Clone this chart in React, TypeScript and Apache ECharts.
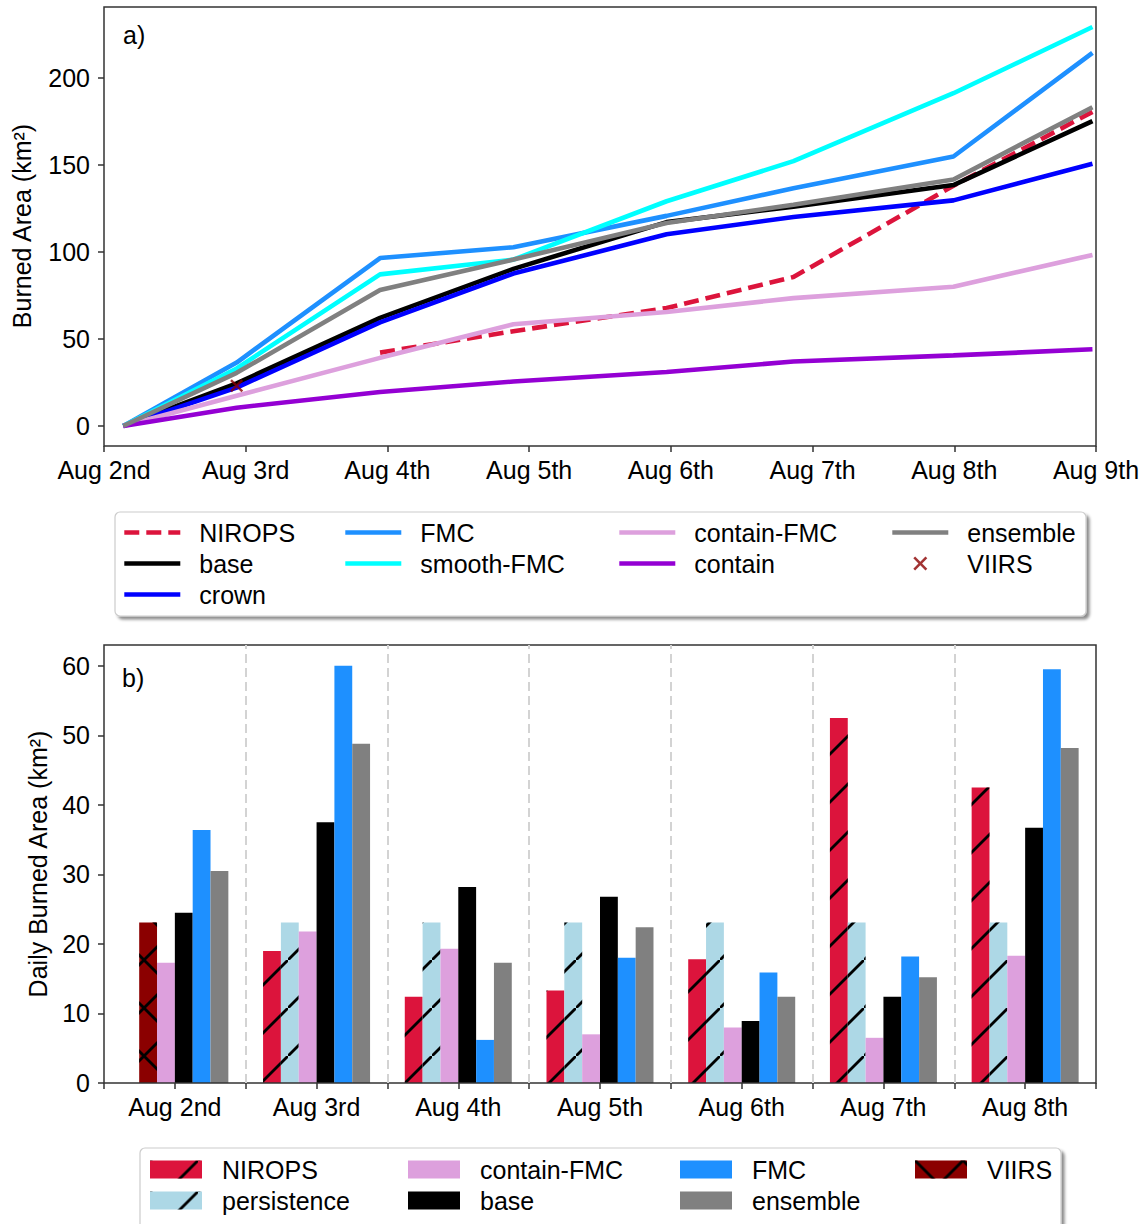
import React, { useEffect, useRef } from 'react';
import * as echarts from 'echarts';

// ---------- Data ----------
const topDayLabels = ['Aug 2nd', 'Aug 3rd', 'Aug 4th', 'Aug 5th', 'Aug 6th', 'Aug 7th', 'Aug 8th', 'Aug 9th'];
// observation times, in days after Aug 2nd 00:00
const obsTimes = [0.136, 0.936, 1.948, 2.889, 3.97, 4.865, 5.994, 6.975];
const niropsCum = [null, null, 42.1, 54.4, 67.7, 85.5, 137.9, 180.3];
const baseCum = [0, 24.5, 62.0, 90.2, 117.0, 125.9, 138.3, 175.0];
const crownCum = [0, 22.0, 59.5, 87.5, 110.0, 120.0, 129.5, 150.5];
const fmcCum = [0, 36.4, 96.4, 102.6, 120.6, 136.5, 154.7, 214.2];
const smoothFmcCum = [0, 33.0, 87.0, 95.5, 129.0, 152.0, 191.0, 229.0];
const containFmcCum = [0, 17.3, 39.1, 58.4, 65.4, 73.4, 79.9, 98.2];
const containCum = [0, 10.5, 19.5, 25.5, 31.0, 37.0, 40.5, 44.0];
const ensembleCum = [0, 30.5, 78.0, 95.5, 116.5, 127.0, 141.5, 183.0];
const viirsTime = [0.936];
const viirsCum = [23.1];

const topYTicks = [0, 50, 100, 150, 200];
const bottomYTicks = [0, 10, 20, 30, 40, 50, 60];

const barDays = ['Aug 2nd', 'Aug 3rd', 'Aug 4th', 'Aug 5th', 'Aug 6th', 'Aug 7th', 'Aug 8th'];
const dailyNirops = [null, 19.0, 12.4, 13.3, 17.8, 52.5, 42.5];
const dailyPersistence = [null, 23.1, 23.1, 23.1, 23.1, 23.1, 23.1];
const dailyViirs = [23.1, null, null, null, null, null, null];
const dailyContainFmc = [17.3, 21.8, 19.3, 7.0, 8.0, 6.5, 18.3];
const dailyBase = [24.5, 37.5, 28.2, 26.8, 8.9, 12.4, 36.7];
const dailyFmc = [36.4, 60.0, 6.2, 18.0, 15.9, 18.2, 59.5];
const dailyEnsemble = [30.5, 48.8, 17.3, 22.4, 12.4, 15.2, 48.2];
const dayBoundaries = [1, 2, 3, 4, 5, 6];

// ---------- Styles ----------
const FONT = "'Liberation Sans', Arial, Helvetica, sans-serif";
const FS = 25;
const LW = 4.6;
const C = {
  nirops: '#dc143c',
  base: '#000000',
  crown: '#0000ff',
  fmc: '#1e90ff',
  smooth: '#00ffff',
  containFmc: '#dda0dd',
  contain: '#9400d3',
  ensemble: '#808080',
  viirs: '#8b0000',
  persistence: '#add8e6',
};
const AXIS_COLOR = '#333333';
const X_PATH =
  'path://M0,1.3 L1.3,0 L5,3.7 L8.7,0 L10,1.3 L6.3,5 L10,8.7 L8.7,10 L5,6.3 L1.3,10 L0,8.7 L3.7,5 Z';
const SLASH = 'path://M46,0 L48,0 L48,2 L2,48 L0,48 L0,46 Z';
const CROSS = 'path://M46,0 L48,0 L48,2 L2,48 L0,48 L0,46 Z M0,2 L0,0 L2,0 L48,46 L48,48 L46,48 Z';

const slashDecal = {
  symbol: SLASH,
  symbolSize: 1,
  symbolKeepAspect: false,
  dashArrayX: [48, 0],
  dashArrayY: [48, 0],
  color: '#000000',
  rotation: 0,
};
const crossDecal = { ...slashDecal, symbol: CROSS };

function pairs(times: number[], vals: (number | null)[]) {
  const out: number[][] = [];
  vals.forEach((v, i) => {
    if (v !== null) out.push([times[i], v]);
  });
  return out;
}

const DASH = [15, 7];

function lineSeries(name: string, vals: (number | null)[], color: string, dashed = false) {
  return {
    name,
    type: 'line',
    xAxisIndex: 0,
    yAxisIndex: 0,
    data: pairs(obsTimes, vals),
    symbol: 'none',
    lineStyle: { width: LW, color, type: dashed ? DASH : 'solid' },
    itemStyle: { color },
    z: 3,
  };
}

function barSeries(name: string, vals: (number | null)[], color: string, decal?: any, stack?: string) {
  const s: any = {
    name,
    type: 'bar',
    xAxisIndex: 1,
    yAxisIndex: 1,
    data: vals,
    barGap: '0%',
    barCategoryGap: '24.5%',
    itemStyle: { color },
  };
  if (decal) s.itemStyle.decal = decal;
  if (stack) s.stack = stack;
  return s;
}

// names of line series: their legend icon shows only the line (symbol hidden)
const LINE_NAMES = ['NIROPS', 'base', 'crown', 'FMC', 'smooth-FMC', 'contain-FMC', 'contain', 'ensemble'];

function legendCol(names: string[], left: number, top: number, o: any) {
  return {
    orient: 'vertical',
    left,
    top,
    padding: 0,
    data: names.map((n) =>
      LINE_NAMES.indexOf(n) >= 0
        ? {
            name: n,
            itemStyle: { opacity: 0 },
            lineStyle: { width: LW, type: n === 'NIROPS' ? DASH : 'solid' },
          }
        : { name: n }
    ),
    itemWidth: o.w,
    itemHeight: o.h,
    itemGap: o.gap,
    icon: o.icon,
    selectedMode: false,
    formatter: (n: string) => n.trim(),
    textStyle: {
      fontSize: FS,
      fontFamily: FONT,
      color: '#000',
      lineHeight: 24,
      padding: [0, 0, 0, o.pad],
    },
  };
}

export default function App() {
  const ref = useRef<HTMLDivElement>(null);

  useEffect(() => {
    if (!ref.current) return;
    const chart = echarts.init(ref.current, null, { renderer: 'svg' });

    const lineLeg = { w: 56, h: 14, gap: 6, pad: 14 };
    const barLeg = { w: 52, h: 18, gap: 6, pad: 15, icon: 'rect' };

    const option: any = {
      animation: false,
      backgroundColor: '#ffffff',
      textStyle: { fontFamily: FONT },
      grid: [
        { left: 104, top: 7, width: 992, height: 439, show: true, borderColor: AXIS_COLOR, borderWidth: 1.5, backgroundColor: 'transparent', z: 5 },
        { left: 104, top: 645, width: 992, height: 438, show: true, borderColor: AXIS_COLOR, borderWidth: 1.5, backgroundColor: 'transparent', z: 5 },
      ],
      xAxis: [
        {
          type: 'value',
          gridIndex: 0,
          min: 0,
          max: 7,
          interval: 1,
          axisLine: { show: false, onZero: false },
          axisTick: { show: true, inside: false, length: 6, lineStyle: { color: AXIS_COLOR, width: 1.5 } },
          axisLabel: {
            fontSize: FS,
            fontFamily: FONT,
            color: '#000',
            margin: 11,
            lineHeight: 26,
            formatter: (v: number) => topDayLabels[Math.round(v)] ?? '',
          },
          splitLine: { show: false },
        },
        {
          type: 'category',
          gridIndex: 1,
          data: barDays,
          position: 'bottom',
          axisLine: { show: false, onZero: false },
          axisTick: { show: true, alignWithLabel: true, inside: false, length: 6, lineStyle: { color: AXIS_COLOR, width: 1.5 } },
          axisLabel: { fontSize: FS, fontFamily: FONT, color: '#000', margin: 11, lineHeight: 26 },
          splitLine: { show: false },
        },
        {
          type: 'value',
          gridIndex: 1,
          min: 0,
          max: 7,
          interval: 1,
          position: 'top',
          offset: -438,
          axisLine: { show: false, onZero: false },
          axisTick: { show: true, inside: true, length: 6, lineStyle: { color: AXIS_COLOR, width: 1.5 } },
          axisLabel: { show: false },
          splitLine: { show: false },
        },
      ],
      yAxis: [
        {
          type: 'value',
          gridIndex: 0,
          min: -11.5,
          max: 240.5,
          axisLine: { show: false, onZero: false },
          axisTick: { show: true, inside: false, length: 6, customValues: topYTicks, lineStyle: { color: AXIS_COLOR, width: 1.5 } },
          axisLabel: { fontSize: FS, fontFamily: FONT, color: '#000', margin: 14, customValues: topYTicks },
          splitLine: { show: false },
        },
        {
          type: 'value',
          gridIndex: 1,
          min: 0,
          max: 63,
          axisLine: { show: false, onZero: false },
          axisTick: { show: true, inside: false, length: 6, customValues: bottomYTicks, lineStyle: { color: AXIS_COLOR, width: 1.5 } },
          axisLabel: { fontSize: FS, fontFamily: FONT, color: '#000', margin: 14, customValues: bottomYTicks },
          splitLine: { show: false },
        },
      ],
      legend: [
        legendCol(['NIROPS', 'base', 'crown'], 122, 520, lineLeg),
        legendCol(['FMC', 'smooth-FMC'], 343, 520, lineLeg),
        legendCol(['contain-FMC', 'contain'], 617, 520, lineLeg),
        legendCol(['ensemble', 'VIIRS'], 890, 520, lineLeg),
        legendCol(['NIROPS ', 'persistence'], 150, 1157, barLeg),
        legendCol(['contain-FMC ', 'base '], 408, 1157, barLeg),
        legendCol(['FMC ', 'ensemble '], 680, 1157, barLeg),
        legendCol(['VIIRS '], 915, 1157, barLeg),
      ],
      graphic: [
        {
          type: 'rect',
          shape: { x: 115, y: 512, width: 971, height: 104, r: 5 },
          style: { fill: '#ffffff', stroke: '#cccccc', lineWidth: 1.2, shadowBlur: 3, shadowOffsetX: 3, shadowOffsetY: 3, shadowColor: 'rgba(0,0,0,0.45)' },
          z: 0,
        },
        {
          type: 'rect',
          shape: { x: 140, y: 1148, width: 921, height: 90, r: 5 },
          style: { fill: '#ffffff', stroke: '#cccccc', lineWidth: 1.2, shadowBlur: 3, shadowOffsetX: 3, shadowOffsetY: 3, shadowColor: 'rgba(0,0,0,0.45)' },
          z: 0,
        },
        {
          type: 'text',
          x: 123,
          y: 35,
          style: { text: 'a)', font: `${FS}px ${FONT}`, fill: '#000', textVerticalAlign: 'middle' },
          z: 10,
        },
        {
          type: 'text',
          x: 122,
          y: 678,
          style: { text: 'b)', font: `${FS}px ${FONT}`, fill: '#000', textVerticalAlign: 'middle' },
          z: 10,
        },
        {
          type: 'text',
          x: 22,
          y: 226,
          rotation: Math.PI / 2,
          style: { text: 'Burned Area (km²)', font: `${FS}px ${FONT}`, fill: '#000', textAlign: 'center', textVerticalAlign: 'middle' },
          z: 10,
        },
        {
          type: 'text',
          x: 38,
          y: 864,
          rotation: Math.PI / 2,
          style: { text: 'Daily Burned Area (km²)', font: `${FS}px ${FONT}`, fill: '#000', textAlign: 'center', textVerticalAlign: 'middle' },
          z: 10,
        },
      ],
      series: [
        lineSeries('NIROPS', niropsCum, C.nirops, true),
        lineSeries('base', baseCum, C.base),
        lineSeries('crown', crownCum, C.crown),
        lineSeries('FMC', fmcCum, C.fmc),
        lineSeries('smooth-FMC', smoothFmcCum, C.smooth),
        lineSeries('contain-FMC', containFmcCum, C.containFmc),
        lineSeries('contain', containCum, C.contain),
        lineSeries('ensemble', ensembleCum, C.ensemble),
        {
          name: 'VIIRS',
          type: 'scatter',
          xAxisIndex: 0,
          yAxisIndex: 0,
          data: pairs(viirsTime, viirsCum),
          symbol: X_PATH,
          symbolSize: 13,
          itemStyle: { color: C.viirs },
          z: 6,
        },
        barSeries('NIROPS ', dailyNirops, C.nirops, slashDecal),
        barSeries('persistence', dailyPersistence, C.persistence, slashDecal, 'pv'),
        barSeries('VIIRS ', dailyViirs, C.viirs, crossDecal, 'pv'),
        barSeries('contain-FMC ', dailyContainFmc, C.containFmc),
        barSeries('base ', dailyBase, C.base),
        barSeries('FMC ', dailyFmc, C.fmc),
        barSeries('ensemble ', dailyEnsemble, C.ensemble),
        {
          name: 'separators',
          type: 'line',
          xAxisIndex: 2,
          yAxisIndex: 1,
          data: [],
          silent: true,
          markLine: {
            silent: true,
            symbol: 'none',
            label: { show: false },
            lineStyle: { color: '#d3d3d3', width: 2, type: [9, 5] },
            data: dayBoundaries.map((v) => ({ xAxis: v })),
          },
        },
      ],
    };

    chart.setOption(option);
    return () => chart.dispose();
  }, []);

  return (
    <div
      ref={ref}
      style={{ position: 'absolute', left: 0, top: 0, width: 1147, height: 1224, background: '#fff' }}
    />
  );
}
